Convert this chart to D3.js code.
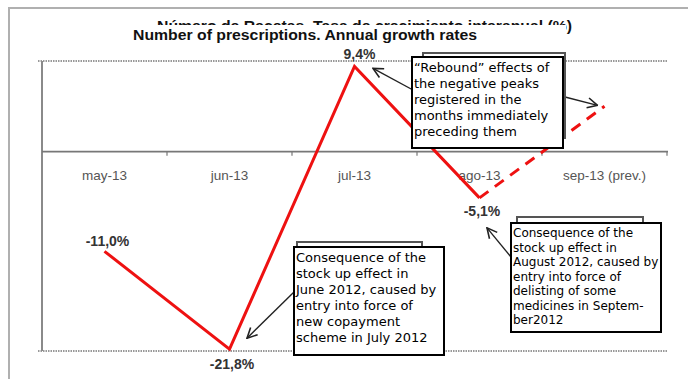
<!DOCTYPE html>
<html>
<head>
<meta charset="utf-8">
<script src="https://cdn.jsdelivr.net/npm/d3@7"></script>
<style>
  body { margin: 0; background: #fff; }
  svg { display: block; }
</style>
</head>
<body>
<svg id="chart" width="688" height="379"></svg>
<script>
// data
var categories = ["may-13", "jun-13", "jul-13", "ago-13", "sep-13 (prev.)"];
var growth = [-11.0, -21.8, 9.4, -5.1, 5.0];
var valueLabels = ["-11,0%", "-21,8%", "9,4%", "-5,1%", ""];
var forecastStart = 3;   // from ago-13 on the line is a forecast
var yGrid = [10, -22];

var titleEs = "Número de Recetas. Tasa de crecimiento interanual (%)";
var titleEn = "Number of prescriptions. Annual growth rates";

var notes = [
    ["\u201CRebound\u201D effects of", "the negative peaks", "registered in the", "months immediately", "preceding them"],
    ["Consequence of the", "stock up effect in", "June 2012, caused by", "entry into force of", "new copayment", "scheme in July 2012"],
    ["Consequence of the", "stock up effect in", "August 2012, caused by", "entry into force of", "delisting of some", "medicines in Septem-", "ber2012"]
];

var svg = d3.select("#chart");

var x = d3.scaleBand().domain(categories).range([42, 667]);
var y = d3.scaleLinear().domain([-22, 10]).range([351, 61]);
function px(i) { return x(categories[i]) + x.bandwidth() / 2; }
function py(i) { return y(growth[i]); }

// outer frame
svg.append("path")
    .attr("d", "M9,379V8H688")
    .attr("fill", "none")
    .attr("stroke", "#b0b0b0")
    .attr("stroke-width", 2);

// old spanish title, mostly hidden under the english one
svg.append("text")
    .attr("x", 157).attr("y", 31)
    .attr("textLength", 415)
    .attr("lengthAdjust", "spacingAndGlyphs")
    .attr("font-family", "Liberation Sans, Arial, sans-serif")
    .attr("font-weight", "bold")
    .attr("font-size", 15)
    .attr("fill", "#111")
    .text(titleEs);
svg.append("rect")
    .attr("x", 120).attr("y", 25)
    .attr("width", 446).attr("height", 21)
    .attr("fill", "#fff");
svg.append("text")
    .attr("x", 133).attr("y", 40)
    .attr("textLength", 344)
    .attr("lengthAdjust", "spacingAndGlyphs")
    .attr("font-family", "Liberation Sans, Arial, sans-serif")
    .attr("font-weight", "bold")
    .attr("font-size", 14)
    .attr("fill", "#111")
    .text(titleEn);

// dotted gridlines
svg.selectAll(".grid")
    .data(yGrid)
    .enter().append("line")
    .attr("class", "grid")
    .attr("x1", 38).attr("x2", 668)
    .attr("y1", function (d) { return y(d); })
    .attr("y2", function (d) { return y(d); })
    .attr("stroke", "#999")
    .attr("stroke-width", 2)
    .attr("stroke-dasharray", "1.5,1");

// y axis line
svg.append("line")
    .attr("x1", 42).attr("x2", 42)
    .attr("y1", y(10)).attr("y2", y(-22))
    .attr("stroke", "#8a8a8a")
    .attr("stroke-width", 2);

// zero axis with category labels
var xAxis = svg.append("g")
    .attr("transform", "translate(0," + y(0) + ")")
    .call(d3.axisBottom(x).tickSize(0).tickSizeOuter(0).tickPadding(19));
xAxis.select(".domain")
    .attr("stroke", "#777")
    .attr("stroke-width", 1.6)
    .attr("d", "M42,0H668");
xAxis.selectAll("text")
    .attr("font-family", "Liberation Sans, Arial, sans-serif")
    .attr("font-size", 13.5)
    .attr("fill", "#555");

var bounds = categories.map(function (c) { return x(c) + x.bandwidth(); });
svg.selectAll(".btick")
    .data(bounds)
    .enter().append("line")
    .attr("class", "btick")
    .attr("x1", function (d) { return d; })
    .attr("x2", function (d) { return d; })
    .attr("y1", y(0)).attr("y2", y(0) + 4)
    .attr("stroke", "#777")
    .attr("stroke-width", 1.2);

// series line
var idx = d3.range(categories.length);
var line = d3.line().x(px).y(py);
svg.append("path")
    .attr("d", line(idx.slice(0, forecastStart + 1)))
    .attr("fill", "none")
    .attr("stroke", "#ee1111")
    .attr("stroke-width", 3);
svg.append("path")
    .attr("d", line(idx.slice(forecastStart)))
    .attr("fill", "none")
    .attr("stroke", "#ee1111")
    .attr("stroke-width", 3)
    .attr("stroke-dasharray", "11,8");

// value labels
var labelNudge = [[3, -5], [2.5, 20], [5, -7], [2.5, 18]];
svg.selectAll(".vlabel")
    .data(idx.filter(function (i) { return valueLabels[i] !== ""; }))
    .enter().append("text")
    .attr("class", "vlabel")
    .attr("x", function (i) { return px(i) + labelNudge[i][0]; })
    .attr("y", function (i) { return py(i) + labelNudge[i][1]; })
    .attr("text-anchor", "middle")
    .attr("font-family", "Liberation Sans, Arial, sans-serif")
    .attr("font-weight", "bold")
    .attr("font-size", 14)
    .attr("fill", "#333")
    .text(function (i) { return valueLabels[i]; });

// arrow head
svg.append("defs").append("marker")
    .attr("id", "head")
    .attr("markerUnits", "userSpaceOnUse")
    .attr("viewBox", "0 0 12 12")
    .attr("refX", 11).attr("refY", 6)
    .attr("markerWidth", 12).attr("markerHeight", 12)
    .attr("orient", "auto")
    .append("path")
    .attr("d", "M1,1L11,6L1,11")
    .attr("fill", "none")
    .attr("stroke", "#222")
    .attr("stroke-width", 1.6);

// annotation boxes
var boxes = [
    { x: 412, y: 57, w: 151, h: 91, sx: 423, sy: 53, sw: 142, sh: 85, fs: 13, lh: 16, note: 0 },
    { x: 294, y: 247, w: 150, h: 108, sx: 297, sy: 242, sw: 125, sh: 20, fs: 13, lh: 16, note: 1 },
    { x: 511, y: 223, w: 150, h: 109, sx: 517, sy: 217, sw: 126, sh: 20, fs: 12, lh: 14.5, note: 2 }
];

var arrows = [
    { x1: 413, y1: 90, i: 2, dx: 18.5, dy: 2 },
    { x1: 565, y1: 97, i: 4, dx: -7, dy: -1 },
    { x1: 294, y1: 292, i: 1, dx: 17.5, dy: -11 },
    { x1: 511, y1: 257, i: 3, dx: 7.5, dy: 30 }
];

svg.selectAll(".arrow")
    .data(arrows)
    .enter().append("line")
    .attr("class", "arrow")
    .attr("x1", function (d) { return d.x1; })
    .attr("y1", function (d) { return d.y1; })
    .attr("x2", function (d) { return px(d.i) + d.dx; })
    .attr("y2", function (d) { return py(d.i) + d.dy; })
    .attr("stroke", "#222")
    .attr("stroke-width", 1.4)
    .attr("marker-end", "url(#head)");

boxes.forEach(function (b) {
    svg.append("rect")
        .attr("x", b.sx).attr("y", b.sy)
        .attr("width", b.sw).attr("height", b.sh)
        .attr("fill", "#fff")
        .attr("stroke", "#555")
        .attr("stroke-width", 2);
    svg.append("rect")
        .attr("x", b.x).attr("y", b.y)
        .attr("width", b.w).attr("height", b.h)
        .attr("fill", "#fff")
        .attr("stroke", "#000")
        .attr("stroke-width", 2);
    svg.append("text")
        .attr("font-family", "DejaVu Sans, Verdana, sans-serif")
        .attr("font-size", b.fs)
        .attr("fill", "#000")
        .selectAll("tspan")
        .data(notes[b.note])
        .enter().append("tspan")
        .attr("x", b.x + 2)
        .attr("y", function (d, k) { return b.y + b.fs + 2 + k * b.lh; })
        .text(function (d) { return d; });
});
</script>
</body>
</html>
